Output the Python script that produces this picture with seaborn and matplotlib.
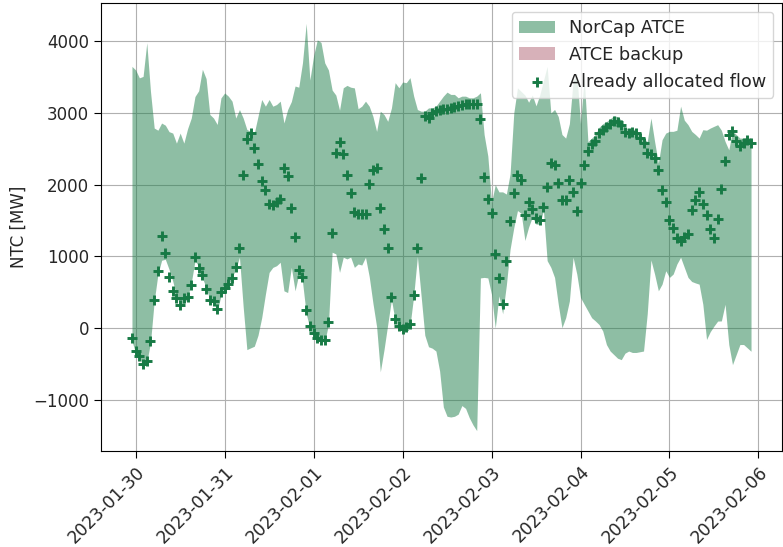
import numpy as np
import pandas as pd
import matplotlib
matplotlib.use("Agg")
import matplotlib.pyplot as plt
import matplotlib.dates as mdates
import seaborn as sns

start_time = "2023-01-29 23:00"
n_hours = 168

flow = [-136, -323, -393, -500, -454, -183, 393, 791, 1283, 1049,
        716, 520, 426, 323, 426, 435, 600, 988, 833, 740,
        543, 393, 379, 262, 500, 560, 613, 700, 847, 1119,
        2140, 2640, 2715, 2505, 2290, 2051, 1924, 1737, 1714, 1760,
        1800, 2229, 2126, 1681, 1269, 815, 707, 250, 35, -75,
        -140, -160, -170, 89, 1325, 2445, 2595, 2428, 2135, 1890,
        1615, 1590, 1585, 1585, 2004, 2205, 2229, 1678, 1386, 1114,
        435, 122, 28, -19, 14, 61, 464, 1119, 2088, 2960,
        2935, 3000, 3030, 3040, 3050, 3060, 3070, 3090, 3100, 3110,
        3120, 3125, 3130, 3130, 2920, 2112, 1800, 1606, 1035, 700,
        342, 932, 1500, 1880, 2140, 2072, 1573, 1760, 1660, 1540,
        1503, 1690, 1971, 2299, 2271, 2018, 1784, 1793, 2060, 1901,
        1634, 2018, 2270, 2475, 2565, 2615, 2720, 2767, 2800, 2850,
        2890, 2877, 2837, 2737, 2720, 2730, 2720, 2650, 2580, 2439,
        2430, 2370, 2210, 1924, 1760, 1507, 1395, 1259, 1213, 1269,
        1316, 1643, 1793, 1901, 1728, 1573, 1386, 1259, 1526, 1934,
        2332, 2697, 2744, 2603, 2533, 2580, 2627, 2580]

atce_upper = [3650, 3600, 3490, 3510, 3980, 3300, 2790, 2760, 2860, 2830,
              2740, 2720, 2580, 2720, 2580, 2780, 2930, 3230, 3310, 3610,
              3480, 2980, 2930, 2840, 3210, 3280, 3235, 3165, 2930, 3048,
              2930, 2770, 2744, 2720, 2954, 3188, 3095, 3188, 3095, 3118,
              3165, 2861, 3048, 3160, 3376, 3360, 3700, 4250, 3460, 3800,
              4020, 3984, 3700, 3600, 3320, 3250, 3040, 3352, 3385, 3360,
              3350, 3060, 3095, 3165, 3095, 2954, 2744, 3025, 2978, 2884,
              3071, 3423, 3352, 3432, 3423, 3493, 3235, 3048, 3025, 3025,
              3071, 3071, 3095, 3165, 3235, 3291, 3259, 3259, 3212, 3235,
              3235, 3212, 3212, 3235, 3282, 2700, 2400, 1750, 2000, 1900,
              1900, 1870, 2150, 3000, 3350, 3300, 3250, 3150, 3250, 3100,
              3250, 3450, 3650, 3000, 3050, 2950, 2700, 2650, 2850, 3450,
              3550, 2850, 3500, 2600, 2650, 2700, 2800, 2850, 2880, 2920,
              2960, 2950, 2900, 2800, 2780, 2780, 2760, 2700, 2650, 2600,
              2930, 2600, 2300, 2627, 2720, 2744, 2744, 2760, 3095, 2900,
              2837, 2744, 2700, 2650, 2767, 2760, 2790, 2814, 2837, 2760,
              2603, 2486, 2750, 2700, 2650, 2650, 2660, 2650]

atce_lower = [-180, -350, -420, -520, -480, -200, 375, 750, 946, 960,
              820, 656, 445, 328, 328, 422, 632, 937, 867, 703,
              562, 400, 370, 239, 450, 520, 590, 707, 824, 988,
              300, -300, -276, -253, -100, 145, 473, 777, 847, 870,
              918, 520, 496, 847, 520, 750, 650, 200, 0, -100,
              -170, -190, -190, 50, 1058, 1035, 777, 988, 965, 990,
              847, 894, 880, 988, 720, 350, 20, -610, -300, 51,
              400, 100, 0, -50, -20, 30, 450, 1000, 450, -100,
              -260, -280, -320, -600, -1100, -1230, -1240, -1230, -1200, -1080,
              -1120, -1250, -1350, -1430, 700, 707, 700, 470, 0, 450,
              200, 600, 1100, 1400, 1640, 1600, 1222, 1409, 1550, 1450,
              1450, 1643, 941, 847, 707, 332, 5, 145, 379, 988,
              754, 426, 332, 239, 145, 100, 50, -40, -230, -320,
              -370, -420, -440, -350, -320, -340, -340, -330, -320, 200,
              950, 750, 520, 613, 800, 707, 754, 894, 988, 847,
              707, 650, 630, 613, 332, -159, -50, 28, 98, 100,
              332, -229, -510, -370, -229, -229, -276, -323]

# ATCE backup band (collapsed: no visible area in this period)
backup_upper = [0] * n_hours
backup_lower = [0] * n_hours

times = pd.date_range(start_time, periods=n_hours, freq="h")
df = pd.DataFrame({"time": times, "flow": flow,
                   "upper": atce_upper, "lower": atce_lower,
                   "b_up": backup_upper, "b_lo": backup_lower})

sns.set_style("ticks")
plt.rcParams["font.family"] = ["DejaVu Sans"]

fig, ax = plt.subplots(figsize=(7.83, 5.47), dpi=100)
fig.subplots_adjust(left=0.129, right=0.9987, top=0.9945, bottom=0.1755)

ax.fill_between(df["time"], df["lower"], df["upper"], color="#1f7f4b",
                alpha=0.5, linewidth=0, label="NorCap ATCE", zorder=2)
ax.fill_between(df["time"], df["b_lo"], df["b_up"], color="#b16575",
                alpha=0.5, linewidth=0, label="ATCE backup", zorder=2)
sns.scatterplot(data=df, x="time", y="flow", marker="+", s=62,
                linewidth=2.1, color="#177a45", label="Already allocated flow",
                ax=ax, zorder=3)

ax.grid(True, color="#b0b0b0", linewidth=0.8, zorder=0)
ax.set_axisbelow(True)
for sp in ax.spines.values():
    sp.set_visible(True)
    sp.set_color("black")
    sp.set_linewidth(0.8)

ax.xaxis.set_major_locator(mdates.DayLocator())
ax.xaxis.set_major_formatter(mdates.DateFormatter("%Y-%m-%d"))
ax.tick_params(axis="both", length=5, width=0.8, color="black")
ax.tick_params(axis="x", labelsize=12.4)
ax.tick_params(axis="y", labelsize=12)
plt.setp(ax.get_xticklabels(), rotation=45, ha="right", rotation_mode="anchor")
ax.set_xlabel("")
ax.set_ylabel("NTC [MW]", fontsize=12)

ax.legend(loc="upper right", fontsize=12.8, framealpha=0.8)

fig.savefig("out.png", dpi=100)
